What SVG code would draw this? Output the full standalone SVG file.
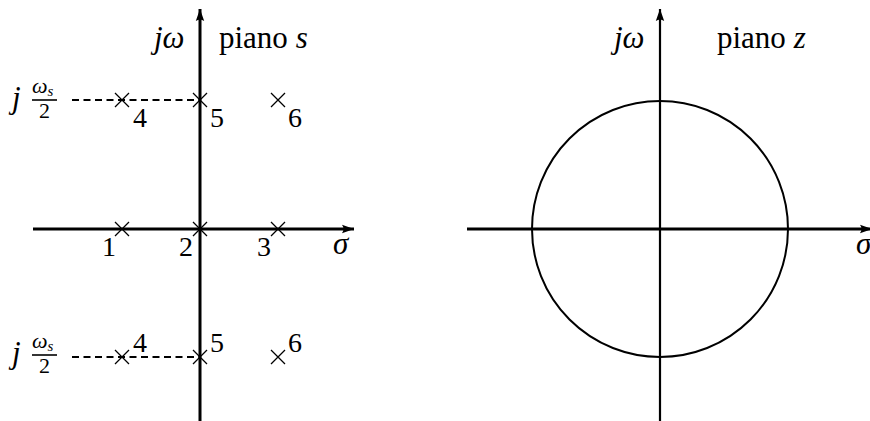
<svg xmlns="http://www.w3.org/2000/svg" width="870" height="421" viewBox="0 0 870 421">
<style>
text{font-family:"Liberation Serif","DejaVu Serif",serif;fill:#000}
.lbl{font-size:28px}
.big{font-size:31px}
.it{font-style:italic}
.sm{font-size:22px}
.ax{stroke:#000;fill:none}
.cr{stroke:#000;stroke-width:1.3;fill:none}
.dash{stroke:#000;stroke-width:1.8;stroke-dasharray:7 4.5;fill:none}
</style>
<defs>
<marker id="arr" markerUnits="userSpaceOnUse" markerWidth="14" markerHeight="10" refX="12" refY="5" orient="auto">
<path d="M0,0.8 L12,5 L0,9.2 Q3,5 0,0.8 Z" fill="#000"/>
</marker>
<g id="x"><path class="cr" d="M-7,-7 L7,7 M-7,7 L7,-7"/></g>
</defs>
<g id="connectors">
<line class="ax" stroke-width="3" x1="200" y1="421" x2="200" y2="9" marker-end="url(#arr)"/>
<line class="ax" stroke-width="3" x1="33" y1="229" x2="354" y2="229" marker-end="url(#arr)"/>
<line class="dash" x1="72" y1="100" x2="200" y2="100"/>
<line class="dash" x1="72" y1="357" x2="200" y2="357"/>
<line class="ax" stroke-width="2.2" x1="660" y1="421" x2="660" y2="9" marker-end="url(#arr)"/>
<line class="ax" stroke-width="3" x1="467" y1="229" x2="872" y2="229" marker-end="url(#arr)"/>
</g>
<g id="s-labels">
<text class="big it" x="154" y="48">jω</text>
<text class="big" x="219" y="48">piano <tspan class="it">s</tspan></text>
<text class="big it" x="333" y="254">σ</text>
<g id="ws2-top">
<text class="big it" x="12" y="108">j</text>
<text class="sm it" x="32" y="93">ω<tspan font-size="15" dy="3">s</tspan></text>
<line stroke="#000" stroke-width="1.6" x1="32" y1="100" x2="57" y2="100"/>
<text class="sm" x="39" y="118">2</text>
</g>
<g id="ws2-bottom">
<text class="big it" x="12" y="363">j</text>
<text class="sm it" x="32" y="348">ω<tspan font-size="15" dy="3">s</tspan></text>
<line stroke="#000" stroke-width="1.6" x1="32" y1="355" x2="57" y2="355"/>
<text class="sm" x="39" y="373">2</text>
</g>
</g>
<g id="pole-4a"><use href="#x" x="122" y="100"/><text class="lbl" x="133" y="127">4</text></g>
<g id="pole-5a"><use href="#x" x="200" y="100"/><text class="lbl" x="210" y="127">5</text></g>
<g id="pole-6a"><use href="#x" x="278" y="100"/><text class="lbl" x="288" y="127">6</text></g>
<g id="pole-1"><use href="#x" x="122" y="229"/><text class="lbl" x="102" y="256">1</text></g>
<g id="pole-2"><use href="#x" x="200" y="229"/><text class="lbl" x="179" y="256">2</text></g>
<g id="pole-3"><use href="#x" x="278" y="229"/><text class="lbl" x="257" y="256">3</text></g>
<g id="pole-4b"><use href="#x" x="122" y="357"/><text class="lbl" x="133" y="352">4</text></g>
<g id="pole-5b"><use href="#x" x="200" y="357"/><text class="lbl" x="210" y="352">5</text></g>
<g id="pole-6b"><use href="#x" x="278" y="357"/><text class="lbl" x="288" y="352">6</text></g>
<g id="z-plane">
<circle cx="660" cy="229" r="128" fill="none" stroke="#000" stroke-width="2"/>
<text class="big it" x="614" y="48">jω</text>
<text class="big" x="717" y="48">piano <tspan class="it">z</tspan></text>
<text class="big it" x="856" y="254">σ</text>
</g>
</svg>
